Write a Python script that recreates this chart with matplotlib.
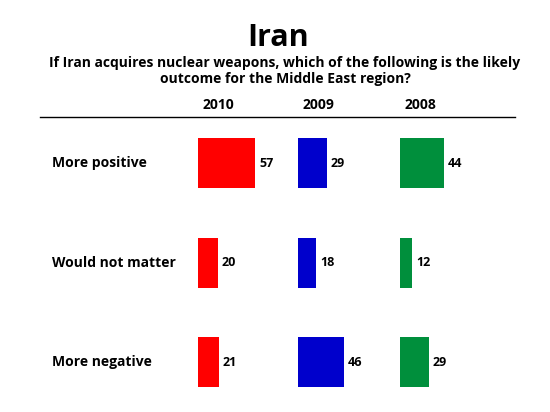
import matplotlib.pyplot as plt

years = ['2010', '2009', '2008']
outcomes = ['More positive', 'Would not matter', 'More negative']
values = {
    '2010': [57, 20, 21],
    '2009': [29, 18, 46],
    '2008': [44, 12, 29],
}
colors = {'2010': '#ff0000', '2009': '#0000cc', '2008': '#008f3c'}

plt.rcParams['font.family'] = ['Open Sans', 'DejaVu Sans']

fig = plt.figure(figsize=(5.5, 4.12), dpi=100)
ax = fig.add_axes([0, 0, 1, 1])
ax.set_xlim(0, 550)
ax.set_ylim(412, 0)
ax.axis('off')

# column start positions and row centres (pixel layout)
col_x = [198, 298, 400]
row_y = [163, 263, 362]

for yr, x0 in zip(years, col_x):
    vals = values[yr]
    ax.barh(row_y, vals, left=x0, height=50, color=colors[yr])
    for y, v in zip(row_y, vals):
        ax.text(x0 + v + 4, y, str(v), va='center', ha='left',
                fontsize=9, fontweight='bold')
    ax.text(x0 + 20, 105, yr, ha='center', va='center',
            fontsize=10, fontweight='bold')

for y, lab in zip(row_y, outcomes):
    ax.text(52, y, lab, va='center', ha='left', fontsize=10, fontweight='bold')

ax.plot([40, 515], [117, 117], color='black', lw=1)

ax.text(278, 38, 'Iran', ha='center', va='center', fontsize=22, fontweight='bold')
ax.text(285, 71, 'If Iran acquires nuclear weapons, which of the following is the likely\noutcome for the Middle East region?',
        ha='center', va='center', fontsize=10, fontweight='bold', linespacing=1.2)

fig.savefig('out.png', dpi=100)
